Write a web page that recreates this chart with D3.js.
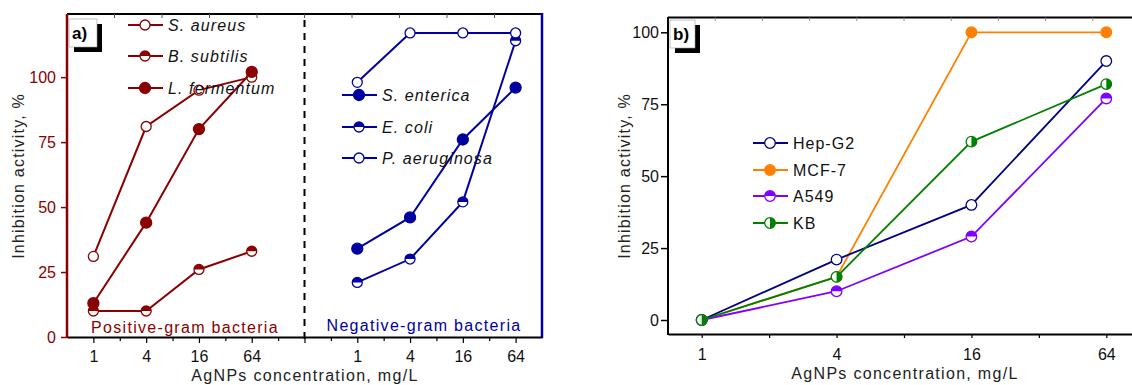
<!DOCTYPE html>
<html>
<head>
<meta charset="utf-8">
<script src="https://d3js.org/d3.v7.min.js"></script>
<style>
  body { margin: 0; background: white; }
  svg text { font-family: "Liberation Sans", Arial, sans-serif; }
</style>
</head>
<body>
<svg id="chart"></svg>
<script>
// concentrations (mg/L), shared by both panels
var conc = ["1", "4", "16", "64"];

// panel a) - gram positive bacteria
var sAureus    = [31, 81, 95, 100];
var bSubtilis  = [10, 10, 26, 33];
var lFermentum = [13, 44, 80, 102];
// panel a) - gram negative bacteria
var sEnterica    = [34, 46, 76, 96];
var eColi        = [21, 30, 52, 114];
var pAeruginosa  = [98, 117, 117, 117];

// panel b) - cell lines
var hepG2 = [0, 21, 40, 90];
var mcf7  = [0, 15, 100, 100];
var a549  = [0, 10, 29, 77];
var kb    = [0, 15, 62, 82];

var yTicks = [0, 25, 50, 75, 100];

var width = 1132, height = 385;
var svg = d3.select("#chart").attr("width", width).attr("height", height);

var red = "#8b0000", blue = "#0000a0";
var fs = 16;

// marker drawing: open, filled, top half filled, right half filled
function marker(g, type, color, r) {
  g.append("circle").attr("r", r).attr("fill", type == "filled" ? color : "white")
    .attr("stroke", color).attr("stroke-width", 1.3);
  if (type == "top") {
    g.append("path").attr("d", "M" + (-r) + ",0A" + r + "," + r + " 0 0 1 " + r + ",0Z").attr("fill", color);
  } else if (type == "right") {
    g.append("path").attr("d", "M0," + (-r) + "A" + r + "," + r + " 0 0 1 0," + r + "Z").attr("fill", color);
  }
}

function drawSeries(x, y, offset, vals, color, type, r, lw) {
  var pts = vals.map(function(v, i) { return [x(i + offset), y(v)]; });
  svg.append("path").attr("d", d3.line()(pts)).attr("fill", "none")
    .attr("stroke", color).attr("stroke-width", lw);
  pts.forEach(function(p) {
    var g = svg.append("g").attr("transform", "translate(" + p[0] + "," + p[1] + ")");
    marker(g, type, color, r);
  });
}

function legendRow(x0, y0, color, type, label, italic, r, lw) {
  svg.append("line").attr("x1", x0).attr("x2", x0 + 35).attr("y1", y0).attr("y2", y0)
    .attr("stroke", color).attr("stroke-width", lw);
  var g = svg.append("g").attr("transform", "translate(" + (x0 + 17) + "," + y0 + ")");
  marker(g, type, color, r);
  svg.append("text").attr("x", x0 + 40).attr("y", y0).attr("dy", "0.35em")
    .attr("font-size", fs).attr("letter-spacing", italic ? 1.1 : 1)
    .attr("font-style", italic ? "italic" : "normal").attr("fill", "#111").text(label);
}

function panelTag(x0, y0, w, label) {
  svg.append("rect").attr("x", x0 + 5).attr("y", y0 + 5).attr("width", w).attr("height", 28).attr("fill", "black");
  svg.append("rect").attr("x", x0).attr("y", y0).attr("width", w).attr("height", 28)
    .attr("fill", "white").attr("stroke", "#999").attr("stroke-width", 0.6);
  svg.append("text").attr("x", x0 + 3).attr("y", y0 + 20).attr("font-size", 17)
    .attr("font-weight", "bold").attr("fill", "black").text(label);
}

function styleTicks(g, color) {
  g.selectAll(".tick text").attr("font-size", fs).attr("fill", color)
    .attr("font-family", "Liberation Sans, Arial");
}

// ---------------- panel a ----------------
var xa = d3.scaleLinear().domain([-0.5, 8.5]).range([67, 542]);
var ya = d3.scaleLinear().domain([0, 124.3]).range([337, 14]);

// top border with small ticks
svg.append("line").attr("x1", 67).attr("x2", 542).attr("y1", 14).attr("y2", 14).attr("stroke", "black").attr("stroke-width", 2);
d3.range(1, 10).forEach(function(k) {
  var xx = 67 + k * 47.5;
  svg.append("line").attr("x1", xx).attr("x2", xx).attr("y1", 14).attr("y2", 18).attr("stroke", "#555").attr("stroke-width", 1);
});
// right border
svg.append("line").attr("x1", 542).attr("x2", 542).attr("y1", 13).attr("y2", 338).attr("stroke", blue).attr("stroke-width", 2.5);

// bottom axis
var xaTicks = d3.range(0, 17).map(function(d) { return d / 2; });
var gxa = svg.append("g").attr("transform", "translate(0,337)")
  .call(d3.axisBottom(xa).tickValues(xaTicks).tickSizeOuter(0).tickPadding(8)
    .tickFormat(function(d) {
      if (d % 1 != 0 || d == 4) return "";
      return d < 4 ? conc[d] : conc[d - 5];
    }));
gxa.select(".domain").attr("stroke", "black").attr("stroke-width", 2);
gxa.selectAll(".tick line").attr("stroke", "black").attr("stroke-width", 1.2)
  .attr("y2", function(d) { return d % 1 == 0 ? 6 : 4; });
styleTicks(gxa, "#111");

// left axis
var gya = svg.append("g").attr("transform", "translate(67,0)")
  .call(d3.axisLeft(ya).tickValues(yTicks).tickSizeOuter(0).tickSize(6).tickPadding(5));
gya.select(".domain").attr("stroke", red).attr("stroke-width", 2.5).attr("d", "M0,14V338");
gya.selectAll(".tick line").attr("stroke", red).attr("stroke-width", 1.5);
styleTicks(gya, red);

// dashed separator
svg.append("line").attr("x1", xa(4)).attr("x2", xa(4)).attr("y1", 20).attr("y2", 340)
  .attr("stroke", "black").attr("stroke-width", 2).attr("stroke-dasharray", "7,6");

drawSeries(xa, ya, 0, sAureus, red, "open", 5, 2);
drawSeries(xa, ya, 0, bSubtilis, red, "top", 5, 2);
drawSeries(xa, ya, 0, lFermentum, red, "filled", 5.5, 2);
drawSeries(xa, ya, 5, sEnterica, blue, "filled", 5.5, 2);
drawSeries(xa, ya, 5, eColi, blue, "top", 5, 2);
drawSeries(xa, ya, 5, pAeruginosa, blue, "open", 5, 2);

legendRow(128, 25, red, "open", "S. aureus", true, 5, 2);
legendRow(128, 56, red, "top", "B. subtilis", true, 5, 2);
legendRow(128, 88, red, "filled", "L. fermentum", true, 5.5, 2);
legendRow(342, 95, blue, "filled", "S. enterica", true, 5.5, 2);
legendRow(342, 127, blue, "top", "E. coli", true, 5, 2);
legendRow(342, 158, blue, "open", "P. aeruginosa", true, 5, 2);

svg.append("text").attr("x", 185).attr("y", 327).attr("dy", "0.35em").attr("text-anchor", "middle")
  .attr("font-size", fs).attr("letter-spacing", 1.3).attr("fill", red).text("Positive-gram bacteria");
svg.append("text").attr("x", 424).attr("y", 325).attr("dy", "0.35em").attr("text-anchor", "middle")
  .attr("font-size", fs).attr("letter-spacing", 1.3).attr("fill", blue).text("Negative-gram bacteria");

svg.append("text").attr("transform", "translate(18,176) rotate(-90)").attr("dy", "0.35em")
  .attr("text-anchor", "middle").attr("font-size", fs).attr("letter-spacing", 1.2).attr("fill", "#222")
  .text("Inhibition activity, %");
svg.append("text").attr("x", 305).attr("y", 375).attr("dy", "0.35em").attr("text-anchor", "middle")
  .attr("font-size", fs).attr("letter-spacing", 1.3).attr("fill", "#222").text("AgNPs concentration, mg/L");

panelTag(69, 19, 28, "a)");

// ---------------- panel b ----------------
var xb = d3.scaleLinear().domain([-0.25, 3.25]).range([668, 1140]);
var yb = d3.scaleLinear().domain([0, 100]).range([320, 32.3]);

svg.append("line").attr("x1", 668).attr("x2", 1140).attr("y1", 17.5).attr("y2", 17.5).attr("stroke", "black").attr("stroke-width", 2);
d3.range(1, 10).forEach(function(k) {
  var xx = 668 + k * 47.2;
  svg.append("line").attr("x1", xx).attr("x2", xx).attr("y1", 17.5).attr("y2", 21).attr("stroke", "#888").attr("stroke-width", 1);
});

var xbTicks = d3.range(0, 7).map(function(d) { return d / 2; });
var gxb = svg.append("g").attr("transform", "translate(0,334)")
  .call(d3.axisBottom(xb).tickValues(xbTicks).tickSizeOuter(0).tickPadding(9)
    .tickFormat(function(d) { return d % 1 == 0 ? conc[d] : ""; }));
gxb.select(".domain").attr("stroke", "black").attr("stroke-width", 2);
gxb.selectAll(".tick line").attr("stroke", "black").attr("stroke-width", 1.2).attr("y2", 4);
styleTicks(gxb, "#111");

var gyb = svg.append("g").attr("transform", "translate(668,0)")
  .call(d3.axisLeft(yb).tickValues(yTicks).tickSizeOuter(0).tickSize(7).tickPadding(2));
gyb.select(".domain").attr("stroke", "black").attr("stroke-width", 2).attr("d", "M0,17V335");
gyb.selectAll(".tick line").attr("stroke", "black").attr("stroke-width", 1.5);
styleTicks(gyb, "#111");

var navy = "#000080", orange = "#ff8000", purple = "#8000ff", green = "#008000";
drawSeries(xb, yb, 0, mcf7, orange, "filled", 5.3, 1.8);
drawSeries(xb, yb, 0, hepG2, navy, "open", 5.3, 1.8);
drawSeries(xb, yb, 0, a549, purple, "top", 5.3, 1.8);
drawSeries(xb, yb, 0, kb, green, "right", 5.3, 1.8);

legendRow(753, 143, navy, "open", "Hep-G2", false, 5.3, 2);
legendRow(753, 170, orange, "filled", "MCF-7", false, 5.3, 2);
legendRow(753, 196, purple, "top", "A549", false, 5.3, 2);
legendRow(753, 223, green, "right", "KB", false, 5.3, 2);

svg.append("text").attr("transform", "translate(624,176) rotate(-90)").attr("dy", "0.35em")
  .attr("text-anchor", "middle").attr("font-size", fs).attr("letter-spacing", 1.2).attr("fill", "#222")
  .text("Inhibition activity, %");
svg.append("text").attr("x", 905).attr("y", 373).attr("dy", "0.35em").attr("text-anchor", "middle")
  .attr("font-size", fs).attr("letter-spacing", 1.3).attr("fill", "#222").text("AgNPs concentration, mg/L");

panelTag(670, 20, 25, "b)");
</script>
</body>
</html>
